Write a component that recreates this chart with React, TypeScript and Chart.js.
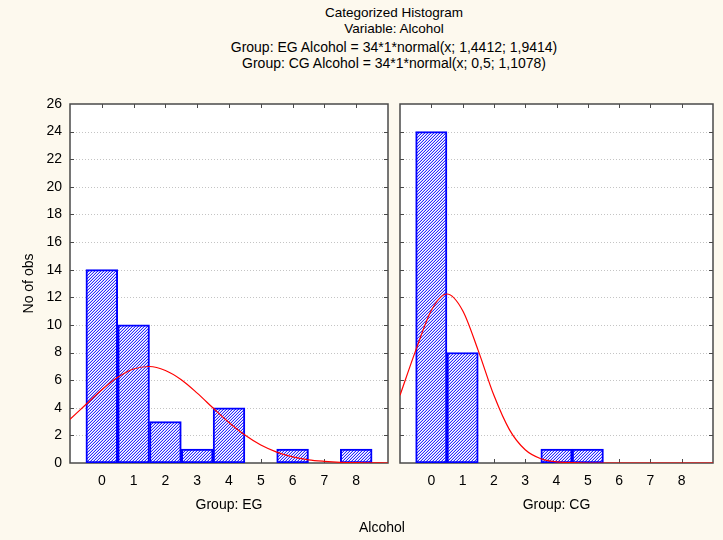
import React, { useEffect, useRef } from "react";
import { Chart, registerables } from "chart.js";

Chart.register(...registerables);

// ---- data ----
const BINS = [0, 1, 2, 3, 4, 5, 6, 7, 8];
const EG_COUNTS = [14, 10, 3, 1, 4, 0, 1, 0, 1];
const CG_COUNTS = [24, 8, 0, 0, 1, 1, 0, 0, 0];

// fitted normal curves at half-unit steps
const CURVE_X = [-1, -0.5, 0, 0.5, 1, 1.5, 2, 2.5, 3, 3.5, 4, 4.5, 5, 5.5, 6, 6.5, 7, 7.5, 8, 8.5, 9];
const EG_CURVE = [3.17, 4.24, 5.31, 6.21, 6.81, 6.99, 6.7, 6.03, 5.06, 3.98, 2.93, 2.02, 1.3, 0.79, 0.44, 0.23, 0.12, 0.05, 0.02, 0.01, 0.0];
const CG_CURVE = [4.9, 8.14, 11.05, 12.24, 11.05, 8.14, 4.9, 2.4, 0.96, 0.31, 0.08, 0.02, 0.0, 0.0, 0.0, 0.0, 0.0, 0.0, 0.0, 0.0, 0.0];

const Y_MAX = 26;
const Y_STEP = 2;
const X_MIN = -1;
const X_MAX = 9;

const TITLE_LINES = ["Categorized Histogram", "Variable: Alcohol"];
const FORMULA_LINES = [
  "Group: EG Alcohol = 34*1*normal(x; 1,4412; 1,9414)",
  "Group: CG Alcohol = 34*1*normal(x; 0,5; 1,1078)",
];
const GROUP_LABELS = ["Group: EG", "Group: CG"];
const X_TITLE = "Alcohol";
const Y_TITLE = "No of obs";

const FONT = "'Liberation Sans', Arial, sans-serif";
const FS = 14;
const BG = "#fdf9ee";

function makeHatch(): CanvasPattern | string {
  const c = document.createElement("canvas");
  c.width = 3;
  c.height = 3;
  const g = c.getContext("2d");
  if (!g) return "#8080ff";
  g.fillStyle = "#ffffff";
  g.fillRect(0, 0, 3, 3);
  g.fillStyle = "#c4c4ff";
  g.fillRect(0, 1, 1, 1);
  g.fillRect(1, 0, 1, 1);
  g.fillRect(2, 2, 1, 1);
  g.fillStyle = "#2a2aff";
  g.fillRect(0, 2, 1, 1);
  g.fillRect(1, 1, 1, 1);
  g.fillRect(2, 0, 1, 1);
  const p = g.createPattern(c, "repeat");
  return p || "#8080ff";
}

const framePlugin = {
  id: "frameDeco",
  beforeDatasetsDraw(chart: any) {
    const { ctx, chartArea: a, scales } = chart;
    const xs = scales.x;
    const ys = scales.y;
    ctx.save();
    ctx.fillStyle = "#ffffff";
    ctx.fillRect(a.left, a.top, a.right - a.left, a.bottom - a.top);
    // dotted grid
    ctx.strokeStyle = "#c4c4c4";
    ctx.lineWidth = 1;
    ctx.setLineDash([1, 2]);
    ys.ticks.forEach((t: any) => {
      if (t.value <= 0 || t.value >= Y_MAX) return;
      const y = Math.round(ys.getPixelForValue(t.value)) + 0.5;
      ctx.beginPath();
      ctx.moveTo(a.left, y);
      ctx.lineTo(a.right, y);
      ctx.stroke();
    });
    ctx.setLineDash([]);
    // frame
    ctx.strokeStyle = "#4a4a4a";
    ctx.lineWidth = 1.5;
    ctx.strokeRect(a.left, a.top, a.right - a.left, a.bottom - a.top);
    // inward ticks
    ctx.lineWidth = 1;
    const TL = 4;
    xs.ticks.forEach((t: any) => {
      if (t.value <= X_MIN || t.value >= X_MAX) return;
      const x = Math.round(xs.getPixelForValue(t.value)) + 0.5;
      ctx.beginPath();
      ctx.moveTo(x, a.top);
      ctx.lineTo(x, a.top + TL);
      ctx.moveTo(x, a.bottom);
      ctx.lineTo(x, a.bottom - TL);
      ctx.stroke();
    });
    ys.ticks.forEach((t: any) => {
      if (t.value <= 0 || t.value >= Y_MAX) return;
      const y = Math.round(ys.getPixelForValue(t.value)) + 0.5;
      ctx.beginPath();
      ctx.moveTo(a.left, y);
      ctx.lineTo(a.left + TL, y);
      ctx.moveTo(a.right, y);
      ctx.lineTo(a.right - TL, y);
      ctx.stroke();
    });
    ctx.restore();
  },
};

function buildConfig(counts: number[], curve: number[], group: string, left: boolean, hatch: any) {
  const barData = BINS.map((b, i) => ({ x: b, y: counts[i] })).filter((d) => d.y > 0);
  const lineData = CURVE_X.map((x, i) => ({ x, y: curve[i] }));
  return {
    type: "bar" as const,
    data: {
      datasets: [
        {
          type: "line" as const,
          data: lineData,
          borderColor: "#ff0000",
          borderWidth: 1.2,
          pointRadius: 0,
          fill: false,
          cubicInterpolationMode: "monotone" as const,
          order: 0,
        },
        {
          type: "bar" as const,
          data: barData,
          backgroundColor: hatch,
          borderColor: "#0000ff",
          borderWidth: 2,
          borderSkipped: false,
          barPercentage: 1,
          categoryPercentage: 1,
          grouped: false,
          order: 1,
        },
      ],
    },
    options: {
      animation: false as const,
      responsive: false,
      maintainAspectRatio: false,
      events: [],
      layout: {
        padding: left
          ? { left: 0, top: 104, right: 723 - 388, bottom: 0 }
          : { left: 400, top: 104, right: 5, bottom: 0 },
      },
      plugins: {
        legend: { display: false },
        tooltip: { enabled: false },
        title: { display: false },
      },
      scales: {
        x: {
          type: "linear" as const,
          min: X_MIN,
          max: X_MAX,
          offset: false,
          grid: { display: false, drawTicks: false },
          border: { display: false },
          ticks: {
            stepSize: 1,
            autoSkip: false,
            maxRotation: 0,
            padding: 10,
            color: "#000",
            font: { family: FONT, size: FS },
            callback: (v: any) => (BINS.includes(Number(v)) ? String(v) : ""),
          },
          title: {
            display: true,
            text: group,
            color: "#000",
            font: { family: FONT, size: FS },
            padding: { top: 0, bottom: 26 },
          },
          afterFit: (s: any) => {
            s.height = 540 - 463;
          },
        },
        y: {
          type: "linear" as const,
          min: 0,
          max: Y_MAX,
          grid: { display: false, drawTicks: false },
          border: { display: false },
          ticks: {
            display: left,
            stepSize: Y_STEP,
            padding: 8,
            color: "#000",
            font: { family: FONT, size: FS },
          },
          title: {
            display: left,
            text: Y_TITLE,
            color: "#000",
            font: { family: FONT, size: FS },
            padding: { top: 21, bottom: 0 },
          },
          afterFit: (s: any) => {
            s.width = left ? 70 : 0;
          },
        },
      },
    },
    plugins: [framePlugin],
  };
}

export default function App() {
  const leftRef = useRef<HTMLCanvasElement | null>(null);
  const rightRef = useRef<HTMLCanvasElement | null>(null);

  useEffect(() => {
    const hatch = makeHatch();
    const charts: Chart[] = [];
    if (leftRef.current) {
      charts.push(new Chart(leftRef.current, buildConfig(EG_COUNTS, EG_CURVE, GROUP_LABELS[0], true, hatch) as any));
    }
    if (rightRef.current) {
      charts.push(new Chart(rightRef.current, buildConfig(CG_COUNTS, CG_CURVE, GROUP_LABELS[1], false, hatch) as any));
    }
    return () => charts.forEach((c) => c.destroy());
  }, []);

  const textStyle: React.CSSProperties = {
    position: "absolute",
    left: 0,
    width: 788,
    textAlign: "center",
    fontFamily: FONT,
    fontSize: FS,
    lineHeight: "16px",
    color: "#000",
    whiteSpace: "nowrap",
  };

  return (
    <div
      style={{
        position: "fixed",
        left: 0,
        top: 0,
        width: 723,
        height: 540,
        background: BG,
        overflow: "hidden",
      }}
    >
      <div style={{ ...textStyle, top: 5, fontSize: 13.5 }}>
        {TITLE_LINES.map((t) => (
          <div key={t}>{t}</div>
        ))}
      </div>
      <div style={{ ...textStyle, top: 39 }}>
        {FORMULA_LINES.map((t) => (
          <div key={t}>{t}</div>
        ))}
      </div>
      <canvas
        ref={leftRef}
        width={723}
        height={540}
        style={{ position: "absolute", left: 0, top: 0, width: 723, height: 540 }}
      />
      <canvas
        ref={rightRef}
        width={723}
        height={540}
        style={{ position: "absolute", left: 0, top: 0, width: 723, height: 540 }}
      />
      <div style={{ ...textStyle, width: 764, top: 519 }}>{X_TITLE}</div>
    </div>
  );
}
